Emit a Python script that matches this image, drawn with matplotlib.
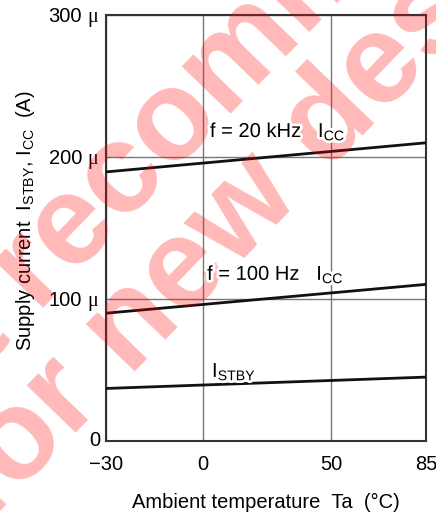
import numpy as np
import matplotlib
matplotlib.use("Agg")
import matplotlib.pyplot as plt
import matplotlib.patheffects as pe

plt.rcParams["font.family"] = ["Liberation Sans", "DejaVu Sans"]
plt.rcParams["mathtext.fontset"] = "custom"
plt.rcParams["mathtext.rm"] = "Liberation Sans"

# Datos
ta = [-30, 85]
icc_20k = [189.5, 210.0]
icc_100 = [90.0, 110.3]
istby = [37.0, 45.0]

x_ticks = [-30, 0, 50, 85]
x_tick_labels = ["\u221230", "0", "50", "85"]
x_tick_pos = [0, 97, 225, 320]  # posición relativa en el eje (no lineal en el original)
y_ticks = [0, 100, 200, 300]
y_tick_labels = ["0", "100", "200", "300"]

FS = 14.5


def fwd(x):
    return np.interp(x, x_ticks, x_tick_pos)


def inv(p):
    return np.interp(p, x_tick_pos, x_ticks)


fig = plt.figure(figsize=(4.36, 5.16), dpi=100)
ax = fig.add_axes([106 / 436, 75 / 516, 320 / 436, 426 / 516])
ax.set_xscale("function", functions=(fwd, inv))

ax.plot(ta, icc_20k, color="#111111", lw=2.0, zorder=3)
ax.plot(ta, icc_100, color="#111111", lw=2.0, zorder=3)
ax.plot(ta, istby, color="#111111", lw=2.0, zorder=3)

ax.set_xlim(-30, 85)
ax.set_ylim(0, 300)
ax.set_xticks(x_ticks)
ax.set_xticklabels(x_tick_labels, fontsize=FS)
ax.set_yticks(y_ticks)
ax.set_yticklabels([])
ax.tick_params(length=0, pad=10)
ax.tick_params(axis="y", pad=0)

ytr = ax.get_yaxis_transform()
for yv, lab in zip(y_ticks, y_tick_labels):
    if yv == 0:
        ax.text(-0.019, yv, lab, transform=ytr, ha="right", va="center", fontsize=FS)
    else:
        ax.text(-0.075, yv - 5.2, lab, transform=ytr, ha="right", va="baseline", fontsize=FS)
        ax.text(-0.025, yv - 5.2, "\u03bc", transform=ytr, ha="right", va="baseline",
                fontsize=FS, family="Liberation Serif")

ax.grid(True, color="#777777", lw=1.0)
for s in ax.spines.values():
    s.set_color("#333333")
    s.set_linewidth(1.5)

ax.set_xlabel("Ambient temperature  Ta  (\u00b0C)", fontsize=FS, labelpad=14)
ax.set_ylabel(r"Supply current  I$_\mathregular{STBY}$, I$_\mathregular{CC}$  (A)",
              fontsize=FS)
ax.yaxis.set_label_coords(-0.215, 0.516)

halo = [pe.withStroke(linewidth=4, foreground="white")]
ax.text(2.7, 214, r"f = 20 kHz   I$_\mathregular{CC}$", fontsize=FS,
        va="baseline", zorder=7, path_effects=halo)
ax.text(1.6, 113.4, r"f = 100 Hz   I$_\mathregular{CC}$", fontsize=FS,
        va="baseline", zorder=7, path_effects=halo)
ax.text(3.5, 45.1, r"I$_\mathregular{STBY}$", fontsize=FS,
        va="baseline", zorder=7, path_effects=halo)

# Marca de agua
wm = dict(transform=fig.transFigure, rotation=46, rotation_mode="anchor",
          ha="center", va="baseline", fontsize=92, fontweight="bold",
          color="red", alpha=0.28, zorder=6, clip_on=False)
ax.text(0.585, 0.828, "Not recommended", **wm)
ax.text(0.743, 0.659, "for new designs", **wm)

plt.savefig("out.png", dpi=100)
